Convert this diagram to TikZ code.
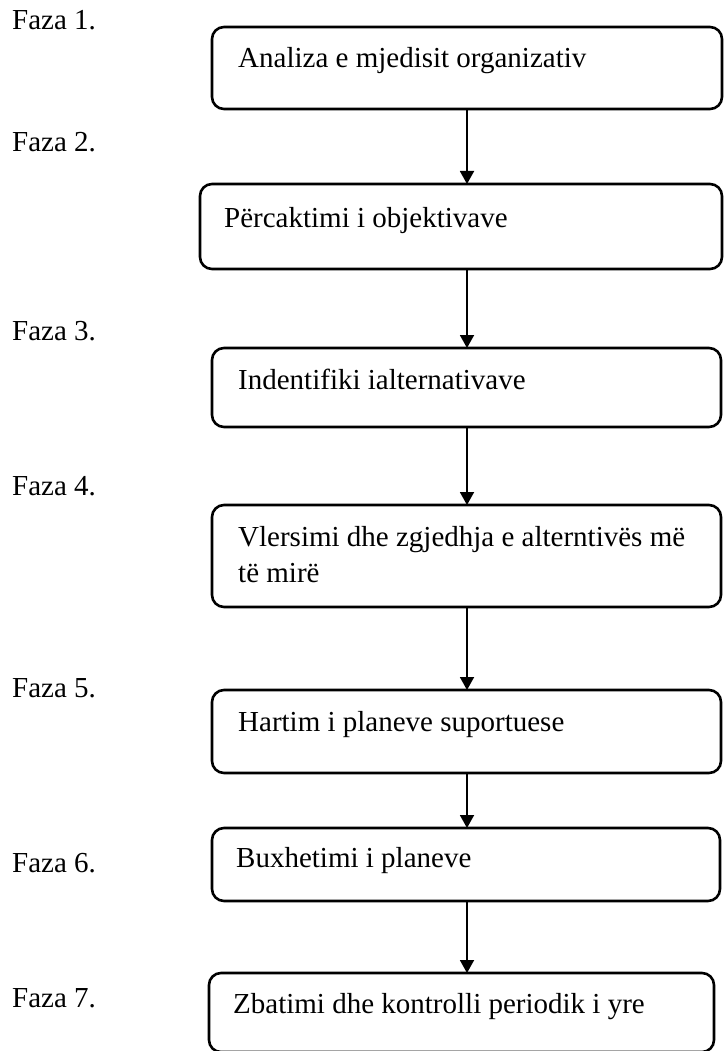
\documentclass[tikz,border=0pt]{standalone}
\usepackage{fontspec}
\setmainfont{Liberation Serif}
\usetikzlibrary{arrows.meta}
\begin{document}
\begin{tikzpicture}[x=1pt,y=-1pt,
  txt/.style={font=\fontsize{29}{36}\selectfont, inner sep=0pt, anchor=base west},
  phasebox/.style={draw=black, line width=2.6pt, rounded corners=12pt,
    inner sep=0pt, outer sep=0pt, anchor=north west},
  flow/.style={draw=black, line width=1.9pt, -{Triangle[length=13pt,width=14pt]}}]
\useasboundingbox (0,0) rectangle (723,1051);

% phase labels on the left
\node[txt] (f1) at (12,30)   {Faza 1.};
\node[txt] (f2) at (12,152)  {Faza 2.};
\node[txt] (f3) at (12,340)  {Faza 3.};
\node[txt] (f4) at (12,495)  {Faza 4.};
\node[txt] (f5) at (12,697)  {Faza 5.};
\node[txt] (f6) at (12,872)  {Faza 6.};
\node[txt] (f7) at (12,1007) {Faza 7.};

% rounded boxes of the steps
\node[phasebox, minimum width=510pt, minimum height=82pt] (b1) at (212,27)  {};
\node[phasebox, minimum width=522pt, minimum height=85pt] (b2) at (200,184) {};
\node[phasebox, minimum width=509pt, minimum height=79pt] (b3) at (212,348) {};
\node[phasebox, minimum width=509pt, minimum height=102pt] (b4) at (212,505) {};
\node[phasebox, minimum width=509pt, minimum height=83pt] (b5) at (212,690) {};
\node[phasebox, minimum width=508pt, minimum height=73pt] (b6) at (212,828) {};
\node[phasebox, minimum width=505pt, minimum height=79pt] (b7) at (209,973) {};

% step texts
\node[txt] (t1) at (238,68)   {Analiza e mjedisit organizativ};
\node[txt] (t2) at (224,227)  {Përcaktimi i objektivave};
\node[txt] (t3) at (238,389)  {Indentifiki ialternativave};
\node[txt] (t4a) at (238,546) {Vlersimi dhe zgjedhja e alterntivës më};
\node[txt] (t4b) at (238,582) {të mirë};
\node[txt] (t5) at (238,731)  {Hartim i planeve suportuese};
\node[txt] (t6) at (236,867)  {Buxhetimi i planeve};
\node[txt] (t7) at (233,1013) {Zbatimi dhe kontrolli periodik i yre};

% connectors, all on one vertical line
\coordinate (ax) at (467,0);
\draw[flow] (b1.south -| ax) -- (b2.north -| ax);
\draw[flow] (b2.south -| ax) -- (b3.north -| ax);
\draw[flow] (b3.south -| ax) -- (b4.north -| ax);
\draw[flow] (b4.south -| ax) -- (b5.north -| ax);
\draw[flow] (b5.south -| ax) -- (b6.north -| ax);
\draw[flow] (b6.south -| ax) -- (b7.north -| ax);
\end{tikzpicture}
\end{document}
